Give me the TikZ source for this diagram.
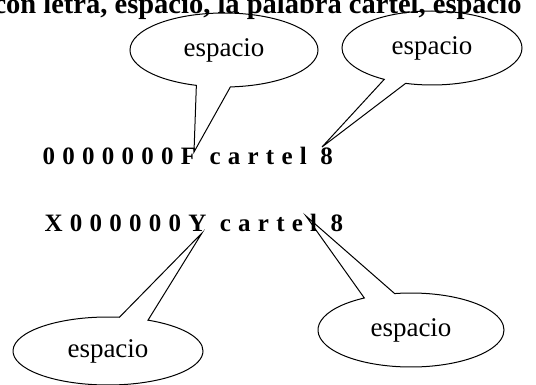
\documentclass[tikz,border=0pt]{standalone}
\usepackage{fontspec}
\setmainfont{Liberation Serif}
\newfontfamily\rowfont[LetterSpace=29]{Liberation Serif}
\usetikzlibrary{shapes.callouts}
\tikzset{bubble/.style={ellipse callout, draw, line width=1pt, inner sep=2pt,
    minimum width=188pt, minimum height=74pt, font=\fontsize{27}{30}\selectfont}}
\tikzset{fila/.style={anchor=base west, font=\fontsize{25}{30}\selectfont\rowfont\bfseries}}

\begin{document}
\begin{tikzpicture}[x=1pt,y=-1pt]
\useasboundingbox (0,0) rectangle (536,385);

\node[anchor=base west,font=\fontsize{28.5}{32}\selectfont\bfseries] (titulo) at(-10,13.5){con letra, espacio, la palabra cartel, espacio};

\node[fila] (fila1) at(39,165){0000000F cartel 8};
\node[fila] (fila2) at(41,232){X000000Y cartel 8};

	\coordinate (p1) at(194,152);
	\coordinate (p2) at(322,147);
	\coordinate (p3) at(202,233);
	\coordinate (p4) at(306,216);

\node[bubble, callout absolute pointer={(p1)}, callout pointer arc=21] (esp1) at(224,50){espacio};
\node[bubble, minimum width=180pt, callout absolute pointer={(p2)}, callout pointer arc=15] (esp2) at(432,48){espacio};
\node[bubble, minimum width=190pt, minimum height=68pt, callout absolute pointer={(p3)}, callout pointer arc=18] (esp3) at(108,351){espacio};
\node[bubble, minimum width=186pt, callout absolute pointer={(p4)}, callout pointer arc=20] (esp4) at(411,330){espacio};
\end{tikzpicture}
\end{document}
